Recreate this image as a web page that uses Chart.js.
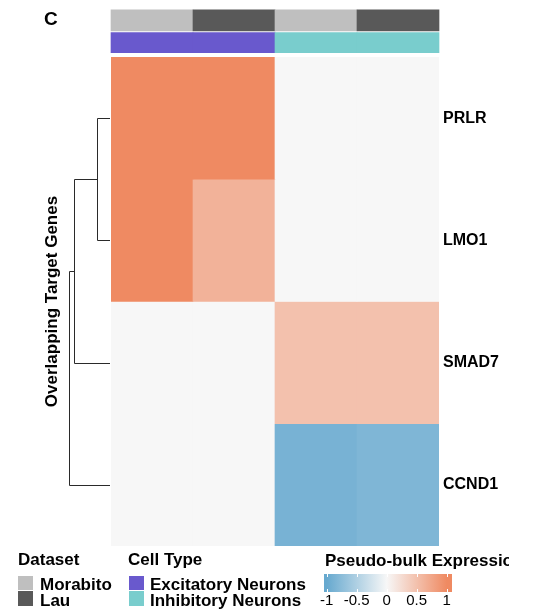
<!DOCTYPE html>
<html><head><meta charset="utf-8">
<script src="https://cdn.jsdelivr.net/npm/chart.js@4"></script>
<style>
html,body{margin:0;padding:0;background:#fff;width:535px;height:612px;overflow:hidden;}
#wrap{position:relative;width:535px;height:612px;overflow:hidden;font-family:'Liberation Sans',Arial,Helvetica,sans-serif;color:#000;}
canvas{position:absolute;left:0;top:0;}
.t{position:absolute;white-space:nowrap;font-weight:bold;font-size:17px;line-height:17px;}
.sw{position:absolute;width:15px;}
.tk{position:absolute;font-size:15px;line-height:15px;white-space:nowrap;transform:translateX(-50%);}
.tm{position:absolute;width:1px;height:3px;background:#fff;}
</style></head><body>
<div id="wrap">
<canvas id="c" width="535" height="560"></canvas>
<div class="t" style="left:44px;top:9px;font-size:19px;line-height:19px">C</div>
<div id="legend"></div>
</div>
<script>
// ---------- data ----------
const genes = ['PRLR', 'LMO1', 'SMAD7', 'CCND1'];
const columnKeys = ['Excitatory Morabito', 'Excitatory Lau', 'Inhibitory Morabito', 'Inhibitory Lau'];
const datasetAnno = ['Morabito', 'Lau', 'Morabito', 'Lau'];
const cellTypeAnno = ['Excitatory Neurons', 'Excitatory Neurons', 'Inhibitory Neurons', 'Inhibitory Neurons'];
const valuesPRLR  = [1.00, 1.00, 0.00, 0.00];
const valuesLMO1  = [1.00, 0.63, 0.00, 0.00];
const valuesSMAD7 = [0.00, 0.00, 0.50, 0.50];
const valuesCCND1 = [0.00, 0.00, -0.88, -0.83];
const dendroMerges = [[0, 1], [4, 2], [5, 3]];   // leaves 0..3, new nodes 4,5,...
const dendroHeights = [0.35, 0.90, 1.02];
const datasetLevels = ['Morabito', 'Lau'];
const cellTypeLevels = ['Excitatory Neurons', 'Inhibitory Neurons'];
const legendTicks = [-1, -0.5, 0, 0.5, 1];
const legendTickLabels = ['-1', '-0.5', '0', '0.5', '1'];

// ---------- styles ----------
const datasetColors = { 'Morabito': '#bfbfbf', 'Lau': '#595959' };
const cellTypeColors = { 'Excitatory Neurons': '#6959cd', 'Inhibitory Neurons': '#79cdcd' };
const colorStops = [[-1, [103, 169, 207]], [0, [247, 247, 247]], [1, [239, 138, 98]]];
function colorFor(v) {
  v = Math.max(-1, Math.min(1, v));
  for (let i = 0; i < colorStops.length - 1; i++) {
    const [a, ca] = colorStops[i], [b, cb] = colorStops[i + 1];
    if (v >= a && v <= b) {
      const t = (v - a) / (b - a);
      const c = ca.map((x, k) => Math.round(x + (cb[k] - x) * t));
      return `rgb(${c[0]},${c[1]},${c[2]})`;
    }
  }
  return '#f7f7f7';
}
const rows = [valuesPRLR, valuesLMO1, valuesSMAD7, valuesCCND1];
const ANNO_DATASET_SPAN = [-0.385, -0.213];
const ANNO_CELLTYPE_SPAN = [-0.199, -0.035];

Chart.defaults.font.family = "'Liberation Sans', Arial, Helvetica, sans-serif";
Chart.defaults.color = '#000';

const datasets = [];
rows.forEach((vals, i) => {
  datasets.push({
    type: 'bar', label: genes[i], xAxisID: 'x', yAxisID: 'y',
    data: vals.map(() => [i, i + 1]),
    backgroundColor: vals.map(colorFor),
    borderWidth: 0, grouped: false, barPercentage: 1, categoryPercentage: 1
  });
});
datasets.push({
  type: 'bar', label: 'Dataset', xAxisID: 'x', yAxisID: 'y', clip: false,
  data: datasetAnno.map(() => ANNO_DATASET_SPAN.slice()),
  backgroundColor: datasetAnno.map(d => datasetColors[d]),
  borderWidth: 0, grouped: false, barPercentage: 1, categoryPercentage: 1
});
datasets.push({
  type: 'bar', label: 'Cell Type', xAxisID: 'x', yAxisID: 'y', clip: false,
  data: cellTypeAnno.map(() => ANNO_CELLTYPE_SPAN.slice()),
  backgroundColor: cellTypeAnno.map(d => cellTypeColors[d]),
  borderWidth: 0, grouped: false, barPercentage: 1, categoryPercentage: 1
});

// dendrogram built from merges; drawn through the chart's y scale and the 'xd' height scale
const nodes = genes.map((g, i) => ({ y: i + 0.5, h: 0, leaf: true }));
const dendroSegments = [];
dendroMerges.forEach(([a, b], k) => {
  const h = dendroHeights[k], A = nodes[a], B = nodes[b];
  dendroSegments.push([A, { h, y: A.y }, { h, y: B.y }, B]);
  nodes.push({ y: (A.y + B.y) / 2, h, leaf: false });
});
const dendroPlugin = {
  id: 'dendro',
  afterDatasetsDraw(chart) {
    const ys = chart.scales.y, xs = chart.scales.xd, ctx = chart.ctx;
    const px = n => n.leaf ? Math.round(xs.getPixelForValue(0)) - 1 : Math.round(xs.getPixelForValue(-n.h)) + 0.5;
    const py = n => Math.round(ys.getPixelForValue(n.y)) + 0.5;
    ctx.save();
    ctx.strokeStyle = '#2a2a2a';
    ctx.lineWidth = 1;
    dendroSegments.forEach(seg => {
      ctx.beginPath();
      ctx.moveTo(px(seg[0]), py(seg[0]));
      for (let i = 1; i < seg.length; i++) ctx.lineTo(px(seg[i]), py(seg[i]));
      ctx.stroke();
    });
    ctx.restore();
  }
};

new Chart(document.getElementById('c'), {
  type: 'bar',
  data: { labels: columnKeys, datasets },
  plugins: [dendroPlugin],
  options: {
    responsive: false, animation: false, events: [],
    layout: { padding: { top: 57, bottom: 14, left: 38, right: 0 } },
    plugins: { legend: { display: false }, tooltip: { enabled: false } },
    scales: {
      x: { type: 'category', display: false, offset: true },
      xd: { type: 'linear', display: false, offset: false, min: 0, max: 8, position: 'bottom' },
      y: {
        type: 'linear', min: 0, max: 4, reverse: true, position: 'right',
        afterBuildTicks: s => { s.ticks = genes.map((g, i) => ({ value: i + 0.5 })); },
        afterFit: s => { s.width = 96; },
        grid: { display: false, drawTicks: false }, border: { display: false },
        ticks: { padding: 4, color: '#000', autoSkip: false, font: { size: 16, weight: 'bold' },
                 callback: v => genes[Math.floor(v)] }
      },
      yl: {
        type: 'linear', min: 0, max: 4, position: 'left',
        afterFit: s => { s.width = 73; },
        grid: { display: false, drawTicks: false }, border: { display: false },
        ticks: { display: false },
        title: { display: true, text: 'Overlapping Target Genes', color: '#000',
                 font: { size: 17, weight: 'bold' }, padding: { top: 4, bottom: 0 } }
      }
    }
  }
});

// ---------- legend (HTML) ----------
const L = document.getElementById('legend');
function add(html) { L.insertAdjacentHTML('beforeend', html); }
add(`<div class="t" style="left:18px;top:551px">Dataset</div>`);
datasetLevels.forEach((d, i) => {
  add(`<div class="sw" style="left:18px;top:${576 + i * 15}px;height:${i ? 15 : 14}px;background:${datasetColors[d]}"></div>`);
  add(`<div class="t" style="left:40px;top:${576 + i * 16}px">${d}</div>`);
});
add(`<div class="t" style="left:128px;top:551px">Cell Type</div>`);
cellTypeLevels.forEach((d, i) => {
  add(`<div class="sw" style="left:129px;top:${576 + i * 15}px;height:${i ? 15 : 14}px;background:${cellTypeColors[d]}"></div>`);
  add(`<div class="t" style="left:150px;top:${576 + i * 16}px">${d}</div>`);
});
add(`<div style="position:absolute;left:325px;top:548px;width:184px;height:24px;overflow:hidden"><div class="t" style="left:0;top:4px">Pseudo-bulk Expression</div></div>`);
const cbL = 324, cbW = 128, t0 = 326.7, t1 = 446.7;
const pct = v => ((t0 + (v + 1) / 2 * (t1 - t0)) - cbL) / cbW * 100;
const grad = colorStops.map(([v, c]) => `rgb(${c.join(',')}) ${pct(v).toFixed(1)}%`).join(',');
add(`<div style="position:absolute;left:${cbL}px;top:574px;width:${cbW}px;height:18px;background:linear-gradient(to right,${grad})"></div>`);
legendTicks.forEach((v, i) => {
  const x = t0 + (v + 1) / 2 * (t1 - t0);
  add(`<div class="tm" style="left:${Math.round(x)}px;top:574px"></div>`);
  add(`<div class="tm" style="left:${Math.round(x)}px;top:589px"></div>`);
  add(`<div class="tk" style="left:${x}px;top:592px">${legendTickLabels[i]}</div>`);
});
</script>
</body></html>
